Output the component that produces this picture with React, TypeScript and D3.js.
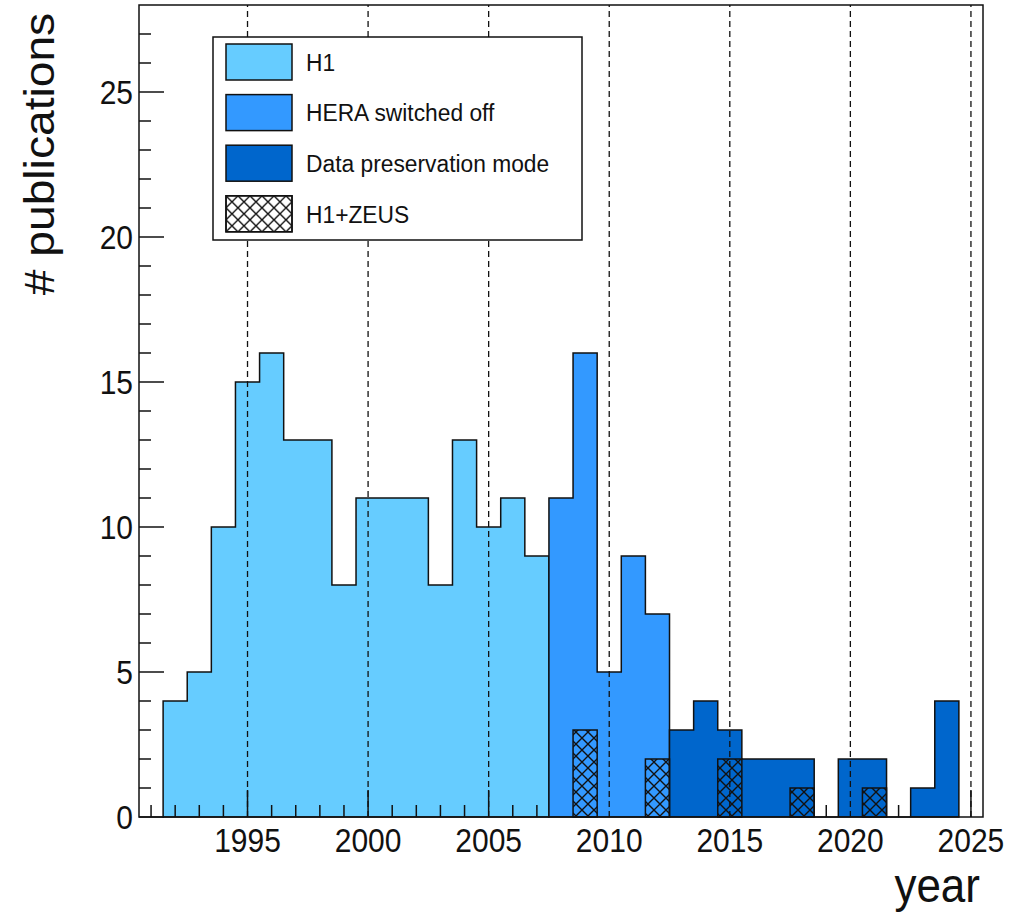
import React, { useRef, useEffect } from 'react';
import * as d3 from "d3";

// publications per year, split by period
const h1Years = [1992, 1993, 1994, 1995, 1996, 1997, 1998, 1999, 2000, 2001, 2002, 2003, 2004, 2005, 2006, 2007];
const h1Counts = [4, 5, 10, 15, 16, 13, 13, 8, 11, 11, 11, 8, 13, 10, 11, 9];

const heraOffYears = [2008, 2009, 2010, 2011, 2012];
const heraOffCounts = [11, 16, 5, 9, 7];

const preservationYears = [2013, 2014, 2015, 2016, 2017, 2018, 2019, 2020, 2021, 2022, 2023, 2024];
const preservationCounts = [3, 4, 3, 2, 2, 2, 0, 2, 2, 0, 1, 4];

const h1zeusYears = [2009, 2012, 2015, 2018, 2021];
const h1zeusCounts = [3, 2, 2, 1, 1];

const legendLabels = ["H1", "HERA switched off", "Data preservation mode", "H1+ZEUS"];
const xTickLabels = [1995, 2000, 2005, 2010, 2015, 2020, 2025];
const yTickLabels = [0, 5, 10, 15, 20, 25];

const FONT = "'Liberation Sans', Arial, Helvetica, sans-serif";

export default function App() {
    const svgRef = useRef<HTMLDivElement>(null);

    useEffect(() => {
        var width = 1018,
            height = 918;

        var color = d3.scaleOrdinal<string, string>()
            .domain(legendLabels.slice(0, 3))
            .range(["#66ccff", "#3399ff", "#0066cc"]);

        var x = d3.scaleLinear().domain([1990.5, 2025.5]).range([139, 983]);
        var y = d3.scaleLinear().domain([0, 28]).range([817, 5]);

        d3.select(svgRef.current).selectAll("*").remove();

        var svg = d3.select(svgRef.current).append("svg")
            .attr("width", width)
            .attr("height", height)
            .style("display", "block");

        var defs = svg.append("defs");
        var pat = defs.append("pattern")
            .attr("id", "xhatch")
            .attr("patternUnits", "userSpaceOnUse")
            .attr("width", 12)
            .attr("height", 12);
        pat.append("path")
            .attr("d", "M0,0L12,12M12,0L0,12")
            .attr("stroke", "#111")
            .attr("stroke-width", 1.4)
            .attr("fill", "none");

        // closed step outline of a histogram
        function histPath(years: number[], counts: number[]) {
            var pts: [number, number][] = [];
            pts.push([x(years[0] - 0.5), y(0)]);
            years.forEach(function (yr, i) {
                pts.push([x(yr - 0.5), y(counts[i])]);
                pts.push([x(yr + 0.5), y(counts[i])]);
            });
            pts.push([x(years[years.length - 1] + 0.5), y(0)]);
            return d3.line()(pts) + "Z";
        }

        function drawHist(years: number[], counts: number[], fill: string) {
            svg.append("path")
                .attr("d", histPath(years, counts))
                .attr("fill", fill)
                .attr("stroke", "#111")
                .attr("stroke-width", 1.5)
                .attr("stroke-linejoin", "miter");
        }

        // H1 goes under the axis ticks, later periods over them
        drawHist(h1Years, h1Counts, color("H1"));

        var xMinor = d3.range(1991, 2026);
        svg.append("g").selectAll("line")
            .data(xMinor)
            .enter().append("line")
            .attr("x1", d => x(d)).attr("x2", d => x(d))
            .attr("y1", y(0))
            .attr("y2", d => y(0) - (d % 5 === 0 ? 27 : 12))
            .attr("stroke", "#111")
            .attr("stroke-width", 1.5);

        var yMinor = d3.range(0, 28);
        svg.append("g").selectAll("line")
            .data(yMinor)
            .enter().append("line")
            .attr("x1", x(1990.5))
            .attr("x2", d => x(1990.5) + (d % 5 === 0 ? 25 : 12))
            .attr("y1", d => y(d)).attr("y2", d => y(d))
            .attr("stroke", "#111")
            .attr("stroke-width", 1.5);

        drawHist(heraOffYears, heraOffCounts, color("HERA switched off"));
        drawHist(preservationYears, preservationCounts, color("Data preservation mode"));

        svg.append("g").selectAll("rect")
            .data(h1zeusYears)
            .enter().append("rect")
            .attr("x", d => x(d - 0.5))
            .attr("width", d => x(d + 0.5) - x(d - 0.5))
            .attr("y", (d, i) => y(h1zeusCounts[i]))
            .attr("height", (d, i) => y(0) - y(h1zeusCounts[i]))
            .attr("fill", "url(#xhatch)")
            .attr("stroke", "#111")
            .attr("stroke-width", 1.5);

        // dashed grid at major years
        svg.append("g").selectAll("line")
            .data(xTickLabels)
            .enter().append("line")
            .attr("x1", d => x(d)).attr("x2", d => x(d))
            .attr("y1", y(0)).attr("y2", y(28))
            .attr("stroke", "#111")
            .attr("stroke-width", 1.3)
            .attr("stroke-dasharray", "6,4");

        // frame
        svg.append("rect")
            .attr("x", x(1990.5)).attr("y", y(28))
            .attr("width", x(2025.5) - x(1990.5))
            .attr("height", y(0) - y(28))
            .attr("fill", "none")
            .attr("stroke", "#111")
            .attr("stroke-width", 1.5);

        // tick labels
        svg.append("g").selectAll("text")
            .data(xTickLabels)
            .enter().append("text")
            .attr("transform", d => "translate(" + x(d) + ",852) scale(1,1.1)")
            .attr("text-anchor", "middle")
            .attr("font-family", FONT)
            .attr("font-size", 30)
            .attr("fill", "#111")
            .text(d => d);

        svg.append("g").selectAll("text")
            .data(yTickLabels)
            .enter().append("text")
            .attr("transform", d => "translate(133," + y(d) + ") scale(1,1.1)")
            .attr("dy", "0.36em")
            .attr("text-anchor", "end")
            .attr("font-family", FONT)
            .attr("font-size", 30)
            .attr("fill", "#111")
            .text(d => d);

        // axis titles
        svg.append("text")
            .attr("transform", "translate(54,154) scale(1,1.1) rotate(-90)")
            .attr("text-anchor", "middle")
            .attr("font-family", FONT)
            .attr("font-size", 42)
            .attr("fill", "#111")
            .text("# publications");

        svg.append("text")
            .attr("transform", "translate(980,902) scale(1,1.1)")
            .attr("text-anchor", "end")
            .attr("font-family", FONT)
            .attr("font-size", 44)
            .attr("fill", "#111")
            .text("year");

        // legend
        var legend = svg.append("g");
        legend.append("rect")
            .attr("x", 213).attr("y", 37)
            .attr("width", 369).attr("height", 203)
            .attr("fill", "white")
            .attr("stroke", "#111")
            .attr("stroke-width", 1.5);

        var items = legend.selectAll("g.item")
            .data(legendLabels)
            .enter().append("g")
            .attr("class", "item")
            .attr("transform", (d, i) => "translate(226," + (44 + i * 50.6) + ")");

        items.append("rect")
            .attr("width", 66).attr("height", 36)
            .attr("fill", (d, i) => i < 3 ? color(d) : "white")
            .attr("stroke", "#111")
            .attr("stroke-width", 1.5);
        items.filter((d, i) => i === 3).append("rect")
            .attr("width", 66).attr("height", 36)
            .attr("fill", "url(#xhatch)")
            .attr("stroke", "#111")
            .attr("stroke-width", 1.5);

        items.append("text")
            .attr("transform", "translate(80,18) scale(1,1.08)")
            .attr("dy", "0.36em")
            .attr("font-family", FONT)
            .attr("font-size", 22.8)
            .attr("fill", "#111")
            .text(d => d);
    }, [])

    return (
        <div ref={svgRef} style={{ position: "absolute", left: 0, top: 0 }}>
        </div>
    )
}
